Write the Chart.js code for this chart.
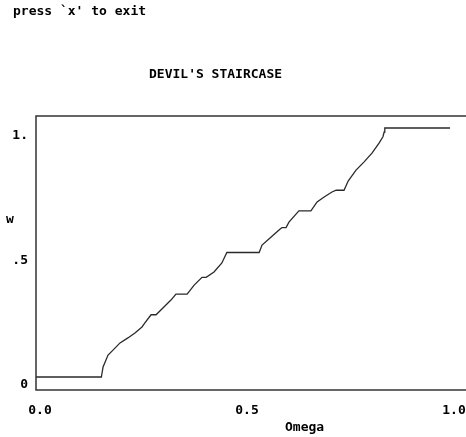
<!DOCTYPE html>
<html>
<head>
<meta charset="utf-8">
<script src="https://cdn.jsdelivr.net/npm/chart.js@4.4.1/dist/chart.umd.min.js"></script>
<style>
    html, body { margin: 0; padding: 0; background: #fff; overflow: hidden; }
    #wrap { position: relative; width: 500px; height: 437px; }
</style>
</head>
<body>
<div id="wrap"><canvas id="stair" width="500" height="437"></canvas></div>
<script>
// valores (Omega -> w)
const omega = [0, 0.158, 0.1595, 0.162, 0.167, 0.174, 0.186, 0.203, 0.222, 0.239, 0.256, 0.263,
    0.278, 0.290, 0.309, 0.326, 0.338, 0.365, 0.382, 0.401, 0.411, 0.430, 0.449, 0.461,
    0.539, 0.546, 0.568, 0.587, 0.594, 0.604, 0.611, 0.635, 0.664, 0.679, 0.696, 0.715,
    0.725, 0.744, 0.754, 0.773, 0.792, 0.812, 0.829, 0.838, 0.841, 0.8425, 1.0];
const wind = [0, 0, 0.016, 0.040, 0.060, 0.088, 0.108, 0.137, 0.157, 0.177, 0.201, 0.217,
    0.25, 0.25, 0.281, 0.309, 0.333, 0.333, 0.369, 0.4, 0.4, 0.422, 0.458, 0.5,
    0.5, 0.530, 0.562, 0.590, 0.6, 0.6, 0.622, 0.667, 0.667, 0.703, 0.723, 0.743,
    0.75, 0.75, 0.787, 0.831, 0.863, 0.900, 0.940, 0.965, 0.984, 1.0, 1.0];

const xTicks = [0, 0.5, 1];
const xLabels = ['0.0', '0.5', '1.0'];
const yTicks = [0, 0.5, 1];
const yLabels = ['0', '.5', '1.'];

const FONT = '"DejaVu Sans Mono", monospace';

// textos sueltos y marco del grafico
const extras = {
    id: 'extras',
    afterDraw(chart) {
        const ctx = chart.ctx;
        const a = chart.chartArea;
        ctx.save();
        ctx.strokeStyle = '#333';
        ctx.lineWidth = 1.5;
        ctx.strokeRect(a.left, a.top, a.right - a.left, a.bottom - a.top);
        ctx.fillStyle = '#000';
        ctx.font = 'bold 13px ' + FONT;
        ctx.textBaseline = 'alphabetic';
        ctx.textAlign = 'left';
        ctx.fillText("press `x' to exit", 13, 15);
        ctx.fillText("DEVIL'S STAIRCASE", 149, 78);
        ctx.fillText('w', 6, 223);
        ctx.fillText('Omega', 285, 431);
        ctx.restore();
    }
};

new Chart(document.getElementById('stair'), {
    type: 'line',
    data: {
        datasets: [{
            data: omega.map((o, i) => ({ x: o, y: wind[i] })),
            borderColor: '#2a2a2a',
            borderWidth: 1.3,
            pointRadius: 0,
            fill: false,
            tension: 0
        }]
    },
    options: {
        responsive: false,
        animation: false,
        layout: { padding: { top: 116, left: 0, right: 8.6, bottom: 0 } },
        plugins: { legend: { display: false }, tooltip: { enabled: false } },
        scales: {
            x: {
                type: 'linear',
                min: 0,
                max: 1.1,
                grid: { display: false, drawTicks: false },
                border: { display: false },
                afterBuildTicks: s => { s.ticks = xTicks.map(v => ({ value: v })); },
                afterFit: s => { s.height = 47; },
                ticks: {
                    padding: 13,
                    labelOffset: 4,
                    maxRotation: 0,
                    color: '#000',
                    font: { family: FONT, size: 13, weight: 'bold' },
                    callback: v => xLabels[xTicks.indexOf(v)]
                }
            },
            y: {
                min: -0.0522,
                max: 1.0482,
                grid: { display: false, drawTicks: false },
                border: { display: false },
                afterBuildTicks: s => { s.ticks = yTicks.map(v => ({ value: v })); },
                afterFit: s => { s.width = 36; },
                ticks: {
                    padding: 8,
                    labelOffset: 8,
                    color: '#000',
                    font: { family: FONT, size: 13, weight: 'bold' },
                    callback: v => yLabels[yTicks.indexOf(v)]
                }
            }
        }
    },
    plugins: [extras]
});
</script>
</body>
</html>
